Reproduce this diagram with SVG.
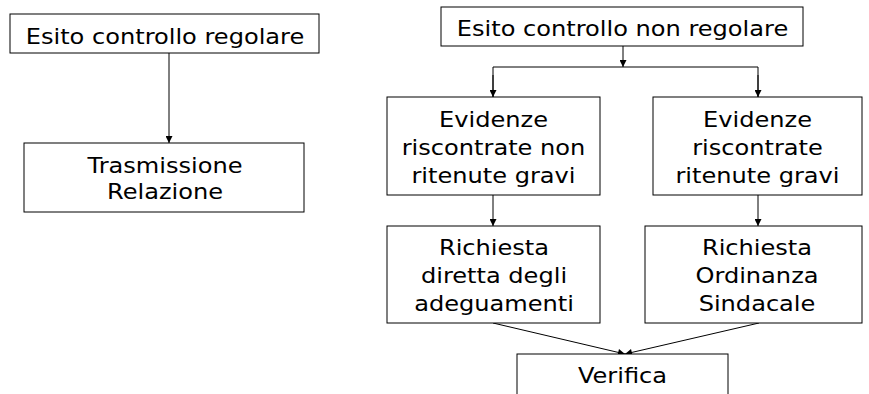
<svg xmlns="http://www.w3.org/2000/svg" width="869" height="394" viewBox="0 0 869 394">
<style>
.box{fill:#fff;stroke:#000;stroke-width:1}
.t{font-family:"DejaVu Sans",Verdana,sans-serif;font-size:21px;fill:#000;text-anchor:middle}
.c{fill:none;stroke:#000;stroke-width:1}
</style>
<defs>
<marker id="ah" viewBox="0 0 10 10" refX="10" refY="5" markerWidth="8" markerHeight="7" markerUnits="userSpaceOnUse" orient="auto">
<path d="M0,0 L10,5 L0,10 z" fill="#000"/>
</marker>
</defs>
<rect width="869" height="394" fill="#fff"/>
<g id="connectors">
<line class="c" x1="169" y1="53" x2="169" y2="143" marker-end="url(#ah)"/>
<line class="c" x1="623" y1="46" x2="623" y2="67" marker-end="url(#ah)"/>
<polyline class="c" points="493,97 493,67 758,67 758,97"/>
<line class="c" x1="493" y1="75" x2="493" y2="97" marker-end="url(#ah)"/>
<line class="c" x1="758" y1="75" x2="758" y2="97" marker-end="url(#ah)"/>
<line class="c" x1="493" y1="195" x2="493" y2="226" marker-end="url(#ah)"/>
<line class="c" x1="758" y1="195" x2="758" y2="226" marker-end="url(#ah)"/>
<line class="c" x1="493" y1="323" x2="625" y2="354" marker-end="url(#ah)"/>
<line class="c" x1="759" y1="323" x2="625" y2="354" marker-end="url(#ah)"/>
</g>
<g id="n1"><rect class="box" x="10" y="14" width="309" height="39"/><text class="t" transform="translate(165,44) scale(1.147,1)">Esito controllo regolare</text></g>
<g id="n2"><rect class="box" x="24" y="143" width="280" height="69"/><text class="t" transform="translate(165,172.5) scale(1.147,1)">Trasmissione</text><text class="t" transform="translate(165,199) scale(1.147,1)">Relazione</text></g>
<g id="n3"><rect class="box" x="441" y="7" width="362" height="39"/><text class="t" transform="translate(622.5,36) scale(1.147,1)">Esito controllo non regolare</text></g>
<g id="n4"><rect class="box" x="387" y="97" width="213" height="98"/><text class="t" transform="translate(493.5,126.5) scale(1.147,1)">Evidenze</text><text class="t" transform="translate(493.5,155) scale(1.147,1)">riscontrate non</text><text class="t" transform="translate(493.5,183) scale(1.147,1)">ritenute gravi</text></g>
<g id="n5"><rect class="box" x="653" y="97" width="209" height="98"/><text class="t" transform="translate(757.5,126.5) scale(1.147,1)">Evidenze</text><text class="t" transform="translate(757.5,155) scale(1.147,1)">riscontrate</text><text class="t" transform="translate(757.5,183) scale(1.147,1)">ritenute gravi</text></g>
<g id="n6"><rect class="box" x="387" y="226" width="213" height="97"/><text class="t" transform="translate(494,254.5) scale(1.147,1)">Richiesta</text><text class="t" transform="translate(494,282.5) scale(1.147,1)">diretta degli</text><text class="t" transform="translate(494,310.5) scale(1.147,1)">adeguamenti</text></g>
<g id="n7"><rect class="box" x="645" y="226" width="217" height="97"/><text class="t" transform="translate(757,254.5) scale(1.147,1)">Richiesta</text><text class="t" transform="translate(757,282.5) scale(1.147,1)">Ordinanza</text><text class="t" transform="translate(757,310.5) scale(1.147,1)">Sindacale</text></g>
<g id="n8"><rect class="box" x="517" y="354" width="211" height="46"/><text class="t" transform="translate(622.5,383) scale(1.147,1)">Verifica</text></g>
</svg>
